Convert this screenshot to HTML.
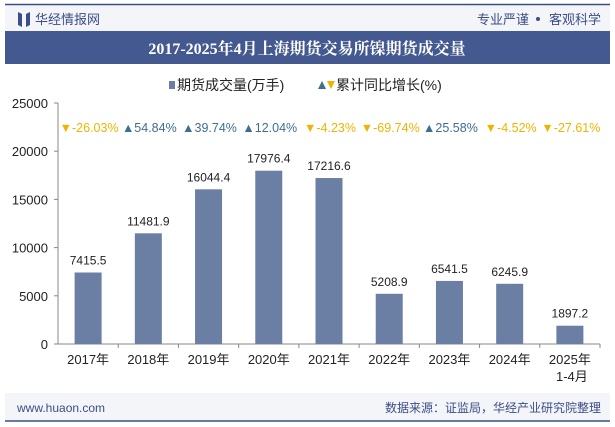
<!DOCTYPE html>
<html><head><meta charset="utf-8"><style>
body{margin:0;width:615px;height:427px;background:#fff;font-family:"Liberation Sans","Noto Sans CJK SC",sans-serif;overflow:hidden;position:relative}
</style></head><body>
<svg width="615" height="427" xmlns="http://www.w3.org/2000/svg" style="position:absolute;left:0;top:0">
<rect x="5" y="4" width="605" height="27" fill="#f4f5f9"/>
<line x1="5" y1="4.5" x2="610" y2="4.5" stroke="#3a4e87" stroke-width="1.5"/>
<path d="M18 12 L22 14 L22 27 L18 25 Z M26 14 L30 12 L30 25 L26 27 Z" fill="#3a4e87"/>
<text x="35" y="24" font-size="13" fill="#3a4e87">华经情报网</text>
<text x="529" y="24" font-size="13" fill="#3a4e87" text-anchor="end">专业严谨</text>
<circle cx="538" cy="19" r="2" fill="#3a4e87"/>
<text x="601" y="24" font-size="13" fill="#3a4e87" text-anchor="end">客观科学</text>
<rect x="5" y="31" width="605" height="33" fill="#44598f"/>
<text x="307" y="54" font-size="16" font-weight="bold" fill="#fff" text-anchor="middle" font-family="Liberation Serif,Noto Serif CJK SC,serif">2017-2025年4月上海期货交易所镍期货成交量</text>
<rect x="169" y="81" width="6" height="8" fill="#6b7ea4"/>
<text x="177" y="90" font-size="14" fill="#222">期货成交量(万手)</text>
<path d="M318 89 L322 81 L326 89 Z" fill="#3d6f8f"/><path d="M327 81 L335 81 L331 89 Z" fill="#f0b400"/>
<text x="336" y="90" font-size="14" fill="#222">累计同比增长(%)</text>
<rect x="5" y="393" width="605" height="28" fill="#f4f5f9"/>
<line x1="5" y1="421" x2="610" y2="421" stroke="#3a4e87" stroke-width="1.5"/>
<text x="17" y="412" font-size="12" fill="#3a4e87">www.huaon.com</text>
<text x="601" y="412" font-size="12" fill="#3a4e87" text-anchor="end">数据来源：证监局，华经产业研究院整理</text>
<g id="plot"></g>
</svg>
<script>
const categories=["2017年","2018年","2019年","2020年","2021年","2022年","2023年","2024年","2025年"];
const volumes=[7415.5,11481.9,16044.4,17976.4,17216.6,5208.9,6541.5,6245.9,1897.2];
const growth=[-26.03,54.84,39.74,12.04,-4.23,-69.74,25.58,-4.52,-27.61];
const yTicks=[0,5000,10000,15000,20000,25000];
const NS="http://www.w3.org/2000/svg";
const g=document.getElementById('plot');
const x0=58,x1=600,yTop=103,yBot=344,yMax=25000;
const bw=(x1-x0)/categories.length;
const y=v=>yBot-(v/yMax)*(yBot-yTop);
const xc=i=>x0+bw*(i+0.5);
function mk(t,a,txt){const e=document.createElementNS(NS,t);for(const k in a)e.setAttribute(k,a[k]);if(txt!==undefined)e.textContent=txt;g.appendChild(e);return e;}
let ax=mk('line',{x1:x0,y1:yTop,x2:x0,y2:yBot,stroke:'#888'});


let bx=mk('line',{x1:x0,y1:yBot,x2:x1,y2:yBot,stroke:'#888'});


yTicks.forEach(v=>{
 mk('line',{x1:x0-4,y1:y(v),x2:x0,y2:y(v),stroke:'#888'});
 const t=mk('text',{x:x0-10,y:y(v)+5,'font-size':13,'text-anchor':'end',fill:'#222'},String(v));
 
 
});
categories.forEach((c,i)=>{
 const cx=xc(i);
 mk('line',{x1:x0+bw*(i+1),y1:yBot,x2:x0+bw*(i+1),y2:yBot+4,stroke:'#888'});
 const r=mk('rect',{x:cx-13.5,y:y(volumes[i]),width:27,height:yBot-y(volumes[i]),fill:'#6b7ea4'});
 
 
 const vl=mk('text',{x:cx,y:y(volumes[i])-8,'font-size':12,'text-anchor':'middle',fill:'#222'},volumes[i].toFixed(1));
 
 
 const xl=mk('text',{x:cx,y:yBot+20,'font-size':13,'text-anchor':'middle',fill:'#222'},c);
 
 
 if(i===categories.length-1){const s=mk('text',{x:cx+2,y:yBot+37,'font-size':13,'text-anchor':'middle',fill:'#222'},'1-4月');
  
  }
 const up=growth[i]>=0,col=up?'#3d6f8f':'#f0b400';
 const gl=mk('text',{x:cx+1,y:132,'font-size':12.5,'text-anchor':'middle',fill:col},(up?'▲':'▼')+growth[i].toFixed(2)+'%');
 
 
});
</script>
</body></html>
